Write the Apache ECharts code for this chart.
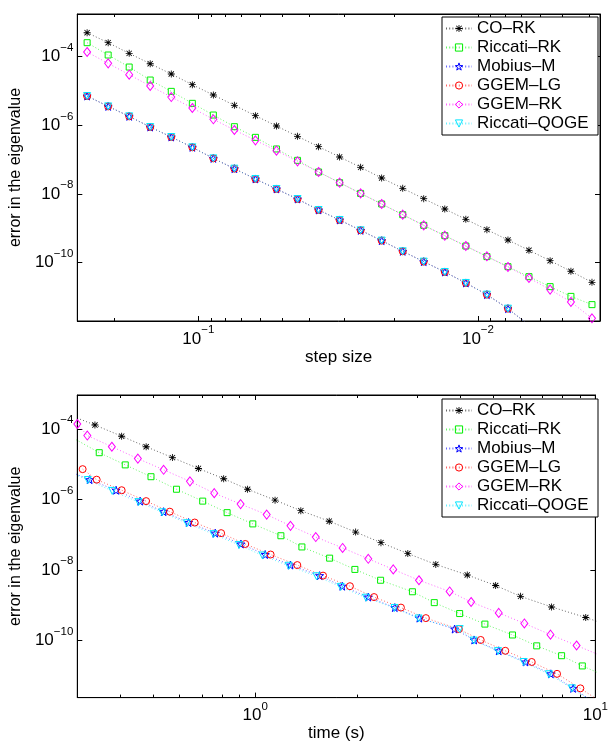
<!DOCTYPE html>
<html><head><meta charset="utf-8">
<script src="https://cdn.jsdelivr.net/npm/echarts@6/dist/echarts.min.js"></script>
<style>html,body{margin:0;padding:0;background:#fff}#c{width:611px;height:743px}</style>
</head><body><div id="c"></div>
<script>
// ---------- DATA ----------
const seriesNames = ['CO–RK', 'Riccati–RK', 'Mobius–M', 'GGEM–LG', 'GGEM–RK', 'Riccati–QOGE'];
const xTickTop = [0.1, 0.01];
const xTickBottom = [1, 10];
const yTicks = [1e-10, 1e-8, 1e-6, 1e-4];

// top panel: error vs step size
const stepSize = [0.25, 0.2102, 0.1768, 0.1487, 0.125, 0.1051, 0.08839, 0.07433, 0.0625, 0.05256, 0.04419, 0.03716, 0.03125, 0.02628, 0.0221, 0.01858, 0.01563, 0.01314, 0.01105, 0.00929, 0.00781, 0.00657, 0.00552, 0.00465, 0.00391];
const errCORK_h = [5.00e-4, 2.56e-4, 1.25e-4, 6.25e-5, 3.13e-5, 1.53e-5, 7.64e-6, 3.83e-6, 1.91e-6, 9.57e-7, 4.79e-7, 2.39e-7, 1.20e-7, 5.98e-8, 2.92e-8, 1.46e-8, 7.31e-9, 3.66e-9, 1.83e-9, 9.14e-10, 4.57e-10, 2.29e-10, 1.14e-10, 5.60e-11, 2.67e-11];
const errRicRK_h = [2.56e-4, 1.12e-4, 5.00e-5, 2.09e-5, 9.77e-6, 4.38e-6, 2.00e-6, 9.14e-7, 4.47e-7, 2.05e-7, 9.57e-8, 4.38e-8, 2.14e-8, 1.04e-8, 5.12e-9, 2.50e-9, 1.22e-9, 6.11e-10, 3.05e-10, 1.50e-10, 7.64e-11, 3.91e-11, 2.00e-11, 1.04e-11, 5.98e-12];
const errMob_h = [7.14e-6, 3.57e-6, 1.83e-6, 8.93e-7, 4.57e-7, 2.29e-7, 1.09e-7, 5.47e-8, 2.74e-8, 1.40e-8, 7.14e-9, 3.42e-9, 1.75e-9, 8.75e-10, 4.38e-10, 2.14e-10, 1.07e-10, 5.35e-11, 2.56e-11, 1.17e-11, 4.57e-12, 1.50e-12];
const errLG_h = [7.14e-6, 3.57e-6, 1.83e-6, 8.93e-7, 4.57e-7, 2.29e-7, 1.09e-7, 5.47e-8, 2.74e-8, 1.40e-8, 7.14e-9, 3.42e-9, 1.75e-9, 8.75e-10, 4.38e-10, 2.14e-10, 1.07e-10, 5.35e-11, 2.56e-11, 1.17e-11, 4.57e-12, 1.50e-12];
const errGRK_h = [1.37e-4, 6.40e-5, 2.99e-5, 1.40e-5, 6.68e-6, 3.20e-6, 1.50e-6, 7.31e-7, 3.66e-7, 1.83e-7, 8.93e-8, 4.38e-8, 2.14e-8, 1.04e-8, 5.12e-9, 2.50e-9, 1.22e-9, 6.11e-10, 3.05e-10, 1.53e-10, 7.48e-11, 3.57e-11, 1.64e-11, 7.14e-12, 2.39e-12];
const errQOGE_h = [7.14e-6, 3.57e-6, 1.83e-6, 8.93e-7, 4.57e-7, 2.29e-7, 1.09e-7, 5.47e-8, 2.74e-8, 1.40e-8, 7.14e-9, 3.42e-9, 1.75e-9, 8.75e-10, 4.38e-10, 2.14e-10, 1.07e-10, 5.35e-11, 2.56e-11, 1.17e-11, 4.57e-12, 1.50e-12];

// bottom panel: error vs time (s)
const tCORK = [0.282, 0.338, 0.405, 0.478, 0.571, 0.681, 0.808, 0.950, 1.144, 1.362, 1.651, 1.974, 2.343, 2.810, 3.396, 4.202, 5.092, 6.028, 7.437, 9.371, 11.5];
const eCORK = [2.56e-4, 1.29e-4, 6.22e-5, 3.13e-5, 1.54e-5, 7.57e-6, 3.88e-6, 1.95e-6, 9.57e-7, 4.81e-7, 2.42e-7, 1.19e-7, 5.97e-8, 2.93e-8, 1.44e-8, 7.24e-9, 3.64e-9, 1.79e-9, 8.97e-10, 4.51e-10, 2.29e-10];
const tRicRK = [0.297, 0.348, 0.415, 0.494, 0.587, 0.701, 0.827, 0.984, 1.190, 1.372, 1.655, 1.964, 2.337, 2.899, 3.361, 3.991, 4.735, 5.707, 6.723, 7.958, 9.157, 10.6];
const eRicRK = [5.00e-5, 2.12e-5, 9.57e-6, 4.42e-6, 1.95e-6, 8.98e-7, 4.23e-7, 2.03e-7, 9.37e-8, 4.51e-8, 2.17e-8, 1.04e-8, 5.13e-9, 2.42e-9, 1.19e-9, 5.83e-10, 2.93e-10, 1.44e-10, 7.08e-11, 3.72e-11, 1.91e-11, 1.04e-11];
const tMob = [0.274, 0.326, 0.390, 0.459, 0.538, 0.637, 0.763, 0.908, 1.070, 1.270, 1.547, 1.803, 2.150, 2.573, 3.038, 3.857, 4.403, 5.199, 6.233, 7.399, 8.602, 10.2];
const eMob = [7.24e-6, 3.64e-6, 1.83e-6, 8.98e-7, 4.51e-7, 2.22e-7, 1.11e-7, 5.47e-8, 2.75e-8, 1.38e-8, 6.93e-9, 3.48e-9, 1.71e-9, 8.61e-10, 4.33e-10, 2.12e-10, 1.04e-10, 5.13e-11, 2.47e-11, 1.14e-11, 4.42e-12, 1.50e-12];
const tLG = [0.311, 0.342, 0.405, 0.478, 0.561, 0.664, 0.794, 0.935, 1.110, 1.330, 1.583, 1.899, 2.236, 2.682, 3.176, 3.969, 4.602, 5.435, 6.500, 7.716, 9.036, 10.7];
const eLG = [7.24e-6, 3.64e-6, 1.83e-6, 8.98e-7, 4.51e-7, 2.22e-7, 1.11e-7, 5.47e-8, 2.75e-8, 1.38e-8, 6.93e-9, 3.48e-9, 1.71e-9, 8.61e-10, 4.33e-10, 2.12e-10, 1.04e-10, 5.13e-11, 2.47e-11, 1.14e-11, 4.42e-12, 1.50e-12];
const tGRK = [0.300, 0.321, 0.379, 0.452, 0.538, 0.643, 0.758, 0.906, 1.081, 1.270, 1.507, 1.807, 2.150, 2.546, 3.030, 3.729, 4.313, 5.199, 6.185, 7.381, 8.807, 10.5];
const eGRK = [1.38e-4, 6.50e-5, 3.13e-5, 1.44e-5, 6.93e-6, 3.27e-6, 1.51e-6, 7.40e-7, 3.72e-7, 1.79e-7, 8.61e-8, 4.23e-8, 2.08e-8, 1.04e-8, 5.13e-9, 2.47e-9, 1.24e-9, 6.09e-10, 3.06e-10, 1.47e-10, 7.24e-11, 3.57e-11];
const tQOGE = [0.273, 0.322, 0.380, 0.454, 0.533, 0.630, 0.754, 0.897, 1.051, 1.254, 1.515, 1.784, 2.118, 2.567, 3.022, 3.991, 4.391, 5.172, 6.155, 7.305, 8.534, 10.1];
const eQOGE = [7.14e-6, 3.56e-6, 1.75e-6, 8.41e-7, 4.32e-7, 2.12e-7, 1.04e-7, 5.13e-8, 2.58e-8, 1.32e-8, 6.64e-9, 3.33e-9, 1.64e-9, 8.41e-10, 4.23e-10, 2.12e-10, 1.00e-10, 5.02e-11, 2.47e-11, 1.11e-11, 4.42e-12, 1.50e-12];

// ---------- STYLE ----------
const FONT = '"Liberation Sans", Arial, Helvetica, sans-serif';
const ASTER = 'path://M0 4.4H10V5.6H0Z M4.4 0H5.6V10H4.4Z M0.8 1.65L1.65 0.8L9.2 8.35L8.35 9.2Z M8.35 0.8L9.2 1.65L1.65 9.2L0.8 8.35Z';
const STAR = 'path://M5 0L6.18 3.38L9.76 3.46L6.9 5.62L7.94 9.05L5 7L2.06 9.05L3.1 5.62L0.24 3.46L3.82 3.38Z';
const HOLLOW = 'rgba(255,255,255,0)';
const styles = {
  'CO–RK': {color: '#000000', symbol: ASTER, size: 7, fill: '#000000'},
  'Riccati–RK': {color: '#00ee00', symbol: 'rect', size: 6},
  'Mobius–M': {color: '#0000ff', symbol: STAR, size: 8},
  'GGEM–LG': {color: '#ff0000', symbol: 'circle', size: 7},
  'GGEM–RK': {color: '#ff00ff', symbol: 'diamond', size: [7, 9]},
  'Riccati–QOGE': {color: '#00e5ff', symbol: 'triangle', size: 7, rot: 180}
};

function zip(xs, ys) { return ys.map((y, i) => [xs[i], y]); }
function mkSeries(name, data, xi, yi) {
  const st = styles[name];
  return {
    type: 'line', name, data, xAxisIndex: xi, yAxisIndex: yi,
    symbol: st.symbol, symbolSize: st.size, symbolRotate: st.rot || 0,
    showSymbol: true, clip: true, animation: false,
    lineStyle: {color: st.color, width: 1, type: [1, 2.2], opacity: 0.6},
    itemStyle: {color: st.fill || HOLLOW, borderColor: st.color, borderWidth: st.fill ? 0 : 1},
    emphasis: {disabled: true}
  };
}

function supLabel(v) {
  const e = Math.round(Math.log10(v));
  return '{b|10}{s|' + (e < 0 ? '\u2212' + (-e) : String(e)) + '}';
}
const rich = {
  b: {fontSize: 17, fontFamily: FONT, color: '#000'},
  s: {fontSize: 11.5, fontFamily: FONT, color: '#000', padding: [0, 0, 18, 0]}
};
const axLine = {show: true, lineStyle: {color: '#000', width: 1}};

function xAxes(gridIndex, min, max, inverse, ticks, name, nameGap) {
  const base = {
    type: 'log', logBase: 10, gridIndex, min, max, inverse,
    axisLine: axLine, splitLine: {show: false}, minorSplitLine: {show: false},
    axisTick: {show: true, inside: true, length: 5, customValues: ticks, lineStyle: {color: '#000'}},
    minorTick: {show: true, splitNumber: 9, length: 3, lineStyle: {color: '#000'}}
  };
  return [
    Object.assign({}, base, {
      position: 'bottom',
      axisLabel: {show: true, customValues: ticks, formatter: supLabel, rich, margin: 3},
      name, nameLocation: 'middle', nameGap,
      nameTextStyle: {fontSize: 17, fontFamily: FONT, color: '#000'}
    }),
    Object.assign({}, base, {position: 'top', axisLabel: {show: false}})
  ];
}
function yAxes(gridIndex, min, max) {
  const base = {
    type: 'log', logBase: 10, gridIndex, min, max,
    axisLine: axLine, splitLine: {show: false}, minorSplitLine: {show: false},
    axisTick: {show: true, inside: true, length: 5, customValues: yTicks, lineStyle: {color: '#000'}},
    minorTick: {show: false}
  };
  return [
    Object.assign({}, base, {
      position: 'left',
      axisLabel: {show: true, customValues: yTicks, formatter: supLabel, rich, margin: 4},
      name: 'error in the eigenvalue', nameLocation: 'middle', nameGap: 48,
      nameTextStyle: {fontSize: 16, fontFamily: FONT, color: '#000'}
    }),
    Object.assign({}, base, {position: 'right', axisLabel: {show: false}})
  ];
}
function mkLegend(top) {
  return {
    left: 442, top, orient: 'vertical', selectedMode: false,
    data: seriesNames.map(n => ({
      name: n,
      itemStyle: {color: styles[n].fill || HOLLOW, borderColor: styles[n].color, borderWidth: styles[n].fill ? 0 : 1}
    })),
    itemWidth: 26, itemHeight: 9, itemGap: 0,
    textStyle: {fontSize: 17, lineHeight: 19, fontFamily: FONT, color: '#000', width: 116},
    borderColor: '#000', borderWidth: 1, backgroundColor: '#fff', padding: [2, 5, 2, 3]
  };
}

const topData = [
  zip(stepSize, errCORK_h), zip(stepSize, errRicRK_h), zip(stepSize, errMob_h),
  zip(stepSize, errLG_h), zip(stepSize, errGRK_h), zip(stepSize, errQOGE_h)
];
const botData = [
  zip(tCORK, eCORK), zip(tRicRK, eRicRK), zip(tMob, eMob),
  zip(tLG, eLG), zip(tGRK, eGRK), zip(tQOGE, eQOGE)
];

const option = {
  animation: false,
  backgroundColor: '#fff',
  grid: [
    {left: 72, top: 14, width: 528, height: 307, show: true, borderColor: '#000', borderWidth: 1},
    {left: 72, top: 395, width: 528, height: 306, show: true, borderColor: '#000', borderWidth: 1}
  ],
  xAxis: [].concat(
    xAxes(0, 0.00366, 0.271, true, xTickTop, 'step size', 23),
    xAxes(1, 0.3, 10, false, xTickBottom, 'time (s)', 24)
  ),
  yAxis: [].concat(
    yAxes(0, Math.pow(10, -11.70), Math.pow(10, -2.756)),
    yAxes(1, Math.pow(10, -11.617), Math.pow(10, -3.038))
  ),
  legend: [mkLegend(17), mkLegend(399)],
  series: [].concat(
    seriesNames.map((n, i) => mkSeries(n, topData[i], 0, 0)),
    seriesNames.map((n, i) => mkSeries(n, botData[i], 2, 2))
  )
};
const chart = echarts.init(document.getElementById('c'), null, {renderer: 'canvas'});
chart.setOption(option);
</script></body></html>
